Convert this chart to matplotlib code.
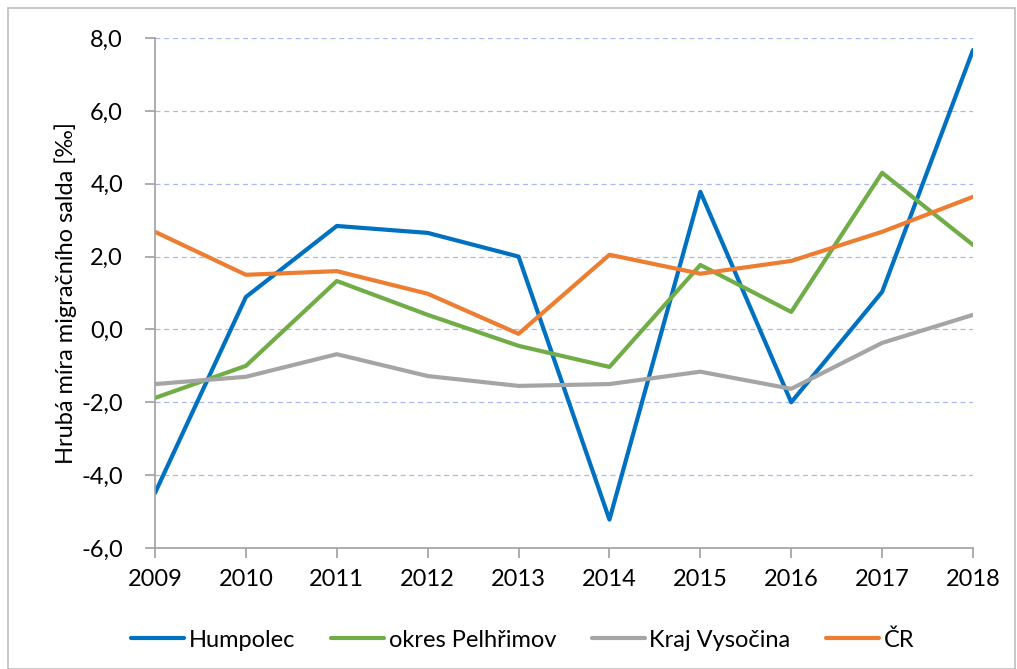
import matplotlib
matplotlib.use("Agg")
import matplotlib.pyplot as plt
from matplotlib.patches import Rectangle
from matplotlib.ticker import FuncFormatter

plt.rcParams['font.family'] = ['Lato', 'DejaVu Sans']

years = [2009, 2010, 2011, 2012, 2013, 2014, 2015, 2016, 2017, 2018]
humpolec = [-4.49, 0.89, 2.84, 2.65, 2.0, -5.22, 3.78, -2.0, 1.03, 7.67]
pelhrimov = [-1.88, -1.0, 1.33, 0.4, -0.45, -1.03, 1.77, 0.48, 4.3, 2.32]
vysocina = [-1.5, -1.3, -0.68, -1.28, -1.55, -1.5, -1.16, -1.63, -0.37, 0.4]
cr = [2.68, 1.5, 1.6, 0.98, -0.12, 2.05, 1.53, 1.88, 2.68, 3.64]

series = [("Humpolec", humpolec, "#0070c0"),
          ("okres Pelhřimov", pelhrimov, "#70ad47"),
          ("Kraj Vysočina", vysocina, "#a5a5a5"),
          ("ČR", cr, "#ed7d31")]

fig = plt.figure(figsize=(10.17, 6.69), dpi=100)
ax = fig.add_axes([155/1017, 1-548/669, (973-155)/1017, (548-38)/669])

for name, vals, col in series:
    ax.plot(years, vals, color=col, lw=3, label=name, solid_capstyle='round', solid_joinstyle='round')

ax.set_xlim(2009, 2018)
ax.set_ylim(-6, 8)
ax.set_yticks(range(-6, 9, 2))
ax.set_xticks(years)
ax.yaxis.set_major_formatter(FuncFormatter(lambda v, p: f"{v:.1f}".replace('.', ',')))
ax.grid(axis='y', color='#a9b8ee', linestyle=(0, (4, 3)), lw=0.9)
ax.set_axisbelow(True)
for s in ['top', 'right']:
    ax.spines[s].set_visible(False)
for s in ['left', 'bottom']:
    ax.spines[s].set_color('#a0a0a0')
    ax.spines[s].set_linewidth(1.2)
ax.tick_params(axis='both', direction='out', length=7, color='#a0a0a0', width=1.2, labelsize=17, labelcolor='black')
ax.tick_params(axis='x', pad=8)
ax.tick_params(axis='y', pad=16)
ax.set_ylabel("Hrubá míra migračního salda [‰]", fontsize=17, labelpad=3)

ax.legend(loc='center', bbox_to_anchor=(0.514, (669-640)/669), bbox_transform=fig.transFigure,
          ncol=4, frameon=False, fontsize=17, handlelength=2.25, handletextpad=0.2, columnspacing=1.5)

fig.patches.append(Rectangle((8/1017, 0), (1017-8)/1017 - 0.002, 1-8/669, transform=fig.transFigure,
                             fill=False, edgecolor='#bdbdbd', lw=1.2))

fig.savefig("out.png", dpi=100)
